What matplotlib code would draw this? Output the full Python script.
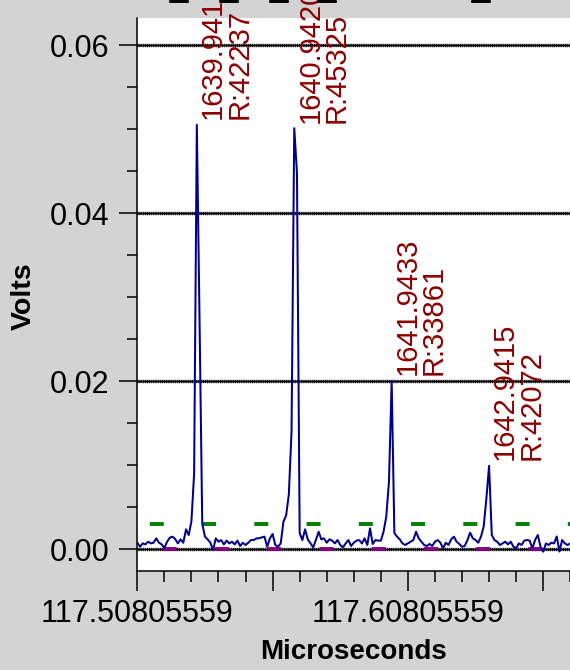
import numpy as np
import matplotlib
matplotlib.use("Agg")
import matplotlib.pyplot as plt
import matplotlib.patheffects as pe
from matplotlib.ticker import FixedLocator, FixedFormatter, MultipleLocator

plt.rcParams["font.family"] = ["Liberation Sans", "DejaVu Sans"]
plt.rcParams["lines.scale_dashes"] = False

# ---- data -------------------------------------------------------------
# digitizer trace: first sample time and sample interval (microseconds)
t_start = 117.50805559
t_step = 0.001
# detector signal in millivolts, one value per sample
volts_mv = [
    0.75, 0.28, 0.67, 0.55, 0.87, 0.67, 0.75, 1.27, 0.75, 0.55,
    0.12, 0.87, 1.35, 1.47, 1.19, 0.67, 1.15, 0.75, 2.34, 1.67,
    3.30, 9.00, 50.5, 27.3, 3.00, 1.47, 1.15, 0.75, -0.10, 1.27,
    0.87, 1.07, 0.55, 1.00, 0.67, 0.87, 0.55, 1.00, 0.36, 0.75,
    0.48, 0.75, 1.07, 1.07, 1.27, 1.27, 1.39, 1.47, 0.28, 1.27,
    1.79, 0.48, 0.28, 0.67, 3.25, 4.00, 6.50, 14.0, 50.1, 44.8,
    1.90, 1.07, 2.34, 1.15, 0.67, 0.20, 1.07, 2.06, 1.15, 1.27,
    0.75, 1.15, 1.00, 0.67, 1.07, 0.48, 0.20, 0.67, 1.07, 0.36,
    0.75, 1.00, 1.07, 0.67, 1.27, 0.48, 2.46, 0.60, 1.07, 1.00,
    1.00, 2.06, 3.85, 8.00, 20.0, 1.90, 1.47, 1.15, 0.67, 0.48,
    0.67, 0.87, 1.07, 2.06, 1.27, 0.87, 0.48, 0.36, 0.60, 0.36,
    0.87, 1.07, 0.75, 0.08, 0.75, 0.48, 1.15, 1.47, 0.87, 0.60,
    0.28, 0.36, 1.07, 1.95, 1.27, 1.07, 0.75, 1.47, 2.66, 6.00,
    9.90, 1.67, 1.07, 0.87, 0.48, 0.67, 0.87, 0.55, 0.87, 0.28,
    0.08, 0.67, 0.48, 1.00, 1.07, 1.00, 0.08, 1.07, 1.67, 0.28,
    -0.32, 0.67, 0.48, 0.75, 0.67, 1.50, -0.30, 1.07, 0.67, 0.48,
    0.67,
]
# labelled peaks: sample index, mass and resolution
peak_index = [22, 58, 94, 130]
peak_mass = ["1639.9412", "1640.9420", "1641.9433", "1642.9415"]
peak_res = ["R:42237", "R:45325", "R:33861", "R:42072"]
# detection threshold and baseline levels (volts)
threshold_level = 0.003
baseline_level = 0.0
# axis ticks
x_major = [117.50805559, 117.55805559, 117.60805559, 117.65805559]
x_major_labels = ["117.50805559", "", "117.60805559", ""]
y_major = [0.00, 0.02, 0.04, 0.06]
y_major_labels = ["0.00", "0.02", "0.04", "0.06"]

# ---- figure -----------------------------------------------------------
t = t_start + t_step * np.arange(len(volts_mv))
v = np.asarray(volts_mv) / 1000.0

W, H = 570, 670
fig = plt.figure(figsize=(W / 100, H / 100), dpi=100, facecolor="#d3d3d3")
left_px, right_px, top_px, bottom_px = 137.3, 571.0, 17.7, 570.7
ax = fig.add_axes([left_px / W, 1 - bottom_px / H,
                   (right_px - left_px) / W, (bottom_px - top_px) / H])
ax.set_facecolor("white")

px_per_us = 2706.0
ax.set_xlim(t_start, t_start + (right_px - left_px) / px_per_us)
ax.set_ylim(-0.00258, 0.06325)

# beaded horizontal grid
for yv in y_major:
    ax.axhline(yv, color="black", lw=1.0, zorder=1)
    ax.axhline(yv, color="black", lw=2.4, ls=(0, (0.9, 0.45)), zorder=1)

# threshold / baseline markers
period_pt = 37.62
dash_pt = 10.08
ax.axhline(threshold_level, color="#008000", lw=2.8,
           ls=(28.4, (dash_pt, period_pt - dash_pt)), zorder=2)
ax.axhline(baseline_level, color="#800080", lw=2.8,
           ls=(19.1, (dash_pt, period_pt - dash_pt)), zorder=2)

ax.plot(t, v, color="#00008b", lw=1.45, zorder=3)

for idx, m, r in zip(peak_index, peak_mass, peak_res):
    ax.annotate(f"{m}\n{r}", xy=(t[idx], v[idx]), xytext=(1.5, 4),
                textcoords="offset points", rotation=90,
                ha="left", va="bottom", color="#8b0000", fontsize=21,
                linespacing=0.92, annotation_clip=False, zorder=4)

# header line sits just above the canvas; only its underscores reach in
for x_px in (170, 220, 270, 318, 472):
    fig.text(x_px / W, 1 + 2.0 / H, "_", fontsize=23, fontweight="bold",
             color="black", ha="left", va="baseline",
             path_effects=[pe.withStroke(linewidth=1.4, foreground="black")])

# axes styling
for side in ("top", "right"):
    ax.spines[side].set_visible(False)
for side in ("left", "bottom"):
    ax.spines[side].set_linewidth(1.1)
    ax.spines[side].set_color("black")

ax.xaxis.set_major_locator(FixedLocator(x_major))
ax.xaxis.set_major_formatter(FixedFormatter(x_major_labels))
ax.xaxis.set_minor_locator(FixedLocator(
    np.arange(x_major[0], ax.get_xlim()[1], 0.01)))
ax.yaxis.set_major_locator(FixedLocator(y_major))
ax.yaxis.set_major_formatter(FixedFormatter(y_major_labels))
ax.yaxis.set_minor_locator(MultipleLocator(0.005))

ax.tick_params(axis="x", which="major", length=14.5, width=1.1, pad=6,
               labelsize=22, direction="out")
ax.tick_params(axis="x", which="minor", length=8, width=1.1, direction="out")
ax.tick_params(axis="y", which="major", length=13, width=1.1, pad=7,
               labelsize=22, direction="out")
ax.tick_params(axis="y", which="minor", length=7, width=1.1, direction="out")

ax.set_xlabel("Microseconds", fontsize=20, fontweight="bold")
ax.set_ylabel("Volts", fontsize=20.5, fontweight="bold")
ax.xaxis.set_label_coords(353.5 / W, 1 - 652 / H, transform=fig.transFigure)
ax.yaxis.set_label_coords(23.7 / W, 1 - 296 / H, transform=fig.transFigure)
ax.xaxis.label.set_va("center")
ax.yaxis.label.set_va("center")

fig.savefig("out.png", dpi=100, facecolor=fig.get_facecolor())
